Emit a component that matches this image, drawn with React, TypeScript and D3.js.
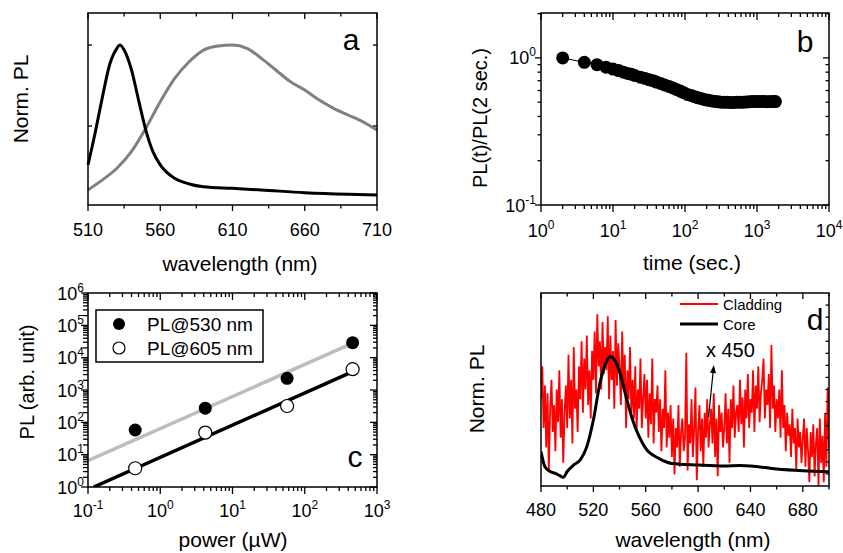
import React from "react";
import * as d3 from "d3";

const W = 843;
const H = 553;
const FONT = "'Liberation Sans', Arial, sans-serif";

// ---- panel a: normalized PL spectra
const aNarrowWave = [510, 515, 520, 525, 530, 532, 535, 540, 545, 550, 555, 560, 570, 580, 590, 610, 630, 660, 690, 710];
const aNarrowPL = [0.26, 0.46, 0.68, 0.88, 0.98, 1.0, 0.97, 0.85, 0.66, 0.475, 0.34, 0.26, 0.177, 0.142, 0.125, 0.115, 0.105, 0.088, 0.078, 0.074];
const aBroadWave = [510, 520, 530, 540, 550, 560, 570, 580, 590, 600, 610, 620, 630, 640, 650, 660, 670, 680, 690, 700, 710];
const aBroadPL = [0.105, 0.167, 0.239, 0.341, 0.486, 0.65, 0.794, 0.897, 0.969, 0.994, 1.0, 0.98, 0.918, 0.846, 0.774, 0.722, 0.66, 0.609, 0.568, 0.527, 0.475];
const aTicks = [510, 560, 610, 660, 710];

// ---- panel b: PL(t)/PL(2 s)
const bTime = [2, 4, 6, 8, 10, 12, 14, 16, 18, 20, 24, 28, 32, 36, 40, 46, 52, 60, 68, 76, 86, 96, 108, 122, 136, 152, 170, 190, 212, 236, 262, 290, 320, 354, 390, 430, 476, 526, 580, 640, 706, 780, 860, 950, 1048, 1156, 1276, 1408, 1554, 1714, 1800];
const bRatio = [1.0, 0.933, 0.9, 0.865, 0.84, 0.82, 0.8, 0.785, 0.775, 0.76, 0.74, 0.725, 0.71, 0.7, 0.685, 0.67, 0.655, 0.64, 0.625, 0.61, 0.595, 0.58, 0.565, 0.555, 0.545, 0.535, 0.528, 0.52, 0.515, 0.51, 0.506, 0.503, 0.5, 0.5, 0.499, 0.498, 0.498, 0.5, 0.5, 0.5, 0.502, 0.503, 0.505, 0.505, 0.506, 0.505, 0.505, 0.504, 0.505, 0.505, 0.505];

// ---- panel c: power dependence
const cPower = [0.45, 4.2, 57, 460];
const cPL530 = [58, 275, 2300, 29000];
const cPL605 = [3.8, 48, 320, 4400];
const cFit530Power = [0.1, 460];
const cFit530 = [6.5, 28000];
const cFit605Power = [0.12, 460];
const cFit605 = [1, 3700];

// ---- panel d: core vs cladding
const dCoreWave = [480, 483, 487, 491, 494, 497, 500, 505, 510, 515, 520, 525, 530, 533, 537, 540, 545, 550, 555, 560, 570, 580, 600, 620, 632, 640, 660, 680, 700];
const dCore = [0.178, 0.1, 0.075, 0.065, 0.055, 0.045, 0.075, 0.109, 0.135, 0.204, 0.342, 0.532, 0.645, 0.67, 0.645, 0.592, 0.463, 0.342, 0.256, 0.195, 0.143, 0.117, 0.109, 0.104, 0.106, 0.104, 0.088, 0.079, 0.074];
const dCladStart = 480; // nm, 1 nm steps
const dClad = [
  0.45, 0.62, 0.3, 0.52, 0.2, 0.48, 0.08, 0.4, 0.55, 0.28,
  0.42, 0.18, 0.5, 0.33, 0.6, 0.25, 0.45, 0.12, 0.38, 0.52,
  0.3, 0.68, 0.35, 0.55, 0.22, 0.72, 0.4, 0.5, 0.28, 0.62,
  0.45, 0.75, 0.38, 0.66, 0.5, 0.78, 0.42, 0.6, 0.35, 0.7,
  0.55, 0.8, 0.48, 0.89, 0.62, 0.75, 0.5, 0.85, 0.58, 0.72,
  0.6, 0.88, 0.45, 0.78, 0.55, 0.7, 0.4, 0.86, 0.52, 0.74,
  0.62, 0.42, 0.8, 0.5, 0.68, 0.3, 0.6, 0.45, 0.72, 0.38,
  0.55, 0.35, 0.62, 0.28, 0.5, 0.4, 0.66, 0.3, 0.45, 0.58,
  0.35, 0.55, 0.25, 0.48, 0.32, 0.66, 0.22, 0.45, 0.38, 0.52,
  0.28, 0.45, 0.18, 0.4, 0.3, 0.6, 0.2, 0.38, 0.25, 0.42,
  0.15, 0.35, 0.06, 0.3, 0.2, 0.42, 0.1, 0.28, 0.35, 0.18,
  0.25, 0.69, 0.08, 0.32, 0.22, 0.45, 0.15, 0.3, 0.51, 0.03,
  0.28, 0.42, 0.18, 0.35, 0.1, 0.38, 0.25, 0.45, 0.2, 0.32,
  0.4, 0.22, 0.48, 0.15, 0.35, 0.05, 0.42, 0.28, 0.38, 0.2,
  0.3, 0.48, 0.22, 0.4, 0.12, 0.45, 0.3, 0.52, 0.25, 0.38,
  0.42, 0.28, 0.55, 0.32, 0.46, 0.2, 0.5, 0.35, 0.58, 0.3,
  0.45, 0.38, 0.6, 0.28, 0.52, 0.4, 0.62, 0.33, 0.48, 0.55,
  0.66, 0.35, 0.5, 0.42, 0.58, 0.3, 0.73, 0.4, 0.52, 0.28,
  0.45, 0.35, 0.5, 0.25, 0.6, 0.3, 0.42, 0.18, 0.38, 0.26,
  0.32, 0.15, 0.4, 0.22, 0.3, 0.08, 0.35, 0.2, 0.28, 0.12,
  0.25, 0.35, 0.1, 0.3, 0.18, 0.02, 0.28, 0.15, 0.32, 0.05,
  0.22, 0.3, 0.0, 0.35, 0.12, 0.26, 0.02, 0.38, 0.1, 0.51,
  0.2,
];
const dTicks = [480, 520, 560, 600, 640, 680];

// log minor tick values between domain ends
function logTicks(lo: number, hi: number) {
  const major: number[] = [];
  const minor: number[] = [];
  for (let e = Math.floor(Math.log10(lo)); e <= Math.ceil(Math.log10(hi)); e++) {
    const p = Math.pow(10, e);
    if (p >= lo * 0.999 && p <= hi * 1.001) major.push(p);
    for (let m = 2; m < 10; m++) {
      const v = m * p;
      if (v > lo && v < hi) minor.push(v);
    }
  }
  return { major, minor };
}

type Side = "top" | "bottom" | "left" | "right";

function tickLines(side: Side, values: number[], scale: any, box: any, len: number, inward: boolean) {
  return values.map((v, i) => {
    const p = scale(v);
    let x1, y1, x2, y2;
    if (side === "bottom") {
      x1 = x2 = p; y1 = box.y1; y2 = box.y1 + (inward ? -len : len);
    } else if (side === "top") {
      x1 = x2 = p; y1 = box.y0; y2 = box.y0 + (inward ? len : -len);
    } else if (side === "left") {
      y1 = y2 = p; x1 = box.x0; x2 = box.x0 + (inward ? len : -len);
    } else {
      y1 = y2 = p; x1 = box.x1; x2 = box.x1 + (inward ? -len : len);
    }
    return <line key={side + i + "-" + len} x1={x1} y1={y1} x2={x2} y2={y2} stroke="#000" strokeWidth={1.3} />;
  });
}

function Pow({ x, y, exp, anchor }: { x: number; y: number; exp: string; anchor: string }) {
  return (
    <text x={x} y={y} textAnchor={anchor} fontSize={18} fontFamily={FONT}>
      10<tspan dy={-8} fontSize={12}>{exp}</tspan>
    </text>
  );
}

function Frame({ box }: { box: any }) {
  return <rect x={box.x0} y={box.y0} width={box.x1 - box.x0} height={box.y1 - box.y0} fill="none" stroke="#000" strokeWidth={1.5} />;
}

function YTitle({ x, y, text, size = 21 }: { x: number; y: number; text: string; size?: number }) {
  return (
    <text transform={`translate(${x},${y}) rotate(-90)`} textAnchor="middle" dy="0.35em" fontSize={size} fontFamily={FONT}>
      {text}
    </text>
  );
}

function PanelA() {
  const box = { x0: 88, x1: 377, y0: 13, y1: 205 };
  const x = d3.scaleLinear().domain([510, 710]).range([box.x0, box.x1]);
  const y = d3.scaleLinear().domain([0.012, 1.198]).range([box.y1, box.y0]);
  const line = d3.line<number>().curve(d3.curveMonotoneX);
  const narrow = line(aNarrowWave.map((w, i) => [x(w), y(aNarrowPL[i])] as any));
  const broad = line(aBroadWave.map((w, i) => [x(w), y(aBroadPL[i])] as any));
  const minor = [535, 585, 635, 685];
  return (
    <g>
      <path d={broad!} fill="none" stroke="#808080" strokeWidth={3} />
      <path d={narrow!} fill="none" stroke="#000" strokeWidth={3} />
      <Frame box={box} />
      {tickLines("bottom", aTicks, x, box, 6, false)}
      {tickLines("bottom", minor, x, box, 3.5, false)}
      {tickLines("top", aTicks, x, box, 6, true)}
      {tickLines("top", minor, x, box, 3.5, true)}
      {tickLines("left", [0.5, 1.0], y, box, 4, true)}
      {tickLines("right", [0.5, 1.0], y, box, 4, true)}
      {aTicks.map((t) => (
        <text key={t} x={x(t)} y={235.5} textAnchor="middle" fontSize={18} fontFamily={FONT}>{t}</text>
      ))}
      <text x={240} y={271} textAnchor="middle" fontSize={21} fontFamily={FONT}>wavelength (nm)</text>
      <YTitle x={21} y={99} text="Norm. PL" />
      <text x={351} y={50} textAnchor="middle" fontSize={30} fontFamily={FONT}>a</text>
    </g>
  );
}

function PanelB() {
  const box = { x0: 541, x1: 829, y0: 13, y1: 205 };
  const x = d3.scaleLog().domain([1, 1e4]).range([box.x0, box.x1]);
  const y = d3.scaleLog().domain([0.1, 2.02]).range([box.y1, box.y0]);
  const xt = logTicks(1, 1e4);
  const yt = logTicks(0.1, 2.02);
  const path = d3.line<number>()(bTime.map((t, i) => [x(t), y(bRatio[i])] as any));
  return (
    <g>
      <path d={path!} fill="none" stroke="#000" strokeWidth={1} />
      {bTime.map((t, i) => (
        <circle key={i} cx={x(t)} cy={y(bRatio[i])} r={6.5} fill="#000" />
      ))}
      <Frame box={box} />
      {tickLines("bottom", xt.major, x, box, 7, false)}
      {tickLines("bottom", xt.minor, x, box, 4, false)}
      {tickLines("top", xt.major, x, box, 7, true)}
      {tickLines("top", xt.minor, x, box, 4, true)}
      {tickLines("left", yt.major, y, box, 6, false)}
      {tickLines("left", yt.minor, y, box, 3.5, false)}
      {tickLines("right", yt.major, y, box, 6, true)}
      {tickLines("right", yt.minor, y, box, 3.5, true)}
      {xt.major.map((t) => (
        <Pow key={t} x={x(t)} y={237} exp={String(Math.round(Math.log10(t)))} anchor="middle" />
      ))}
      {yt.major.map((t) => (
        <Pow key={t} x={536} y={y(t) + 6.5} exp={String(Math.round(Math.log10(t)))} anchor="end" />
      ))}
      <text x={692} y={270} textAnchor="middle" fontSize={21} fontFamily={FONT}>time (sec.)</text>
      <YTitle x={480} y={118} text="PL(t)/PL(2 sec.)" size={20} />
      <text x={805} y={52} textAnchor="middle" fontSize={30} fontFamily={FONT}>b</text>
    </g>
  );
}

function PanelC() {
  const box = { x0: 88, x1: 377, y0: 293, y1: 487 };
  const x = d3.scaleLog().domain([0.1, 1000]).range([box.x0, box.x1]);
  const y = d3.scaleLog().domain([1, 1e6]).range([box.y1, box.y0]);
  const xt = logTicks(0.1, 1000);
  const yt = logTicks(1, 1e6);
  const line = d3.line<number>();
  const fitGray = line(cFit530Power.map((p, i) => [x(p), y(cFit530[i])] as any));
  const fitBlack = line(cFit605Power.map((p, i) => [x(p), y(cFit605[i])] as any));
  return (
    <g>
      <defs>
        <clipPath id="clipC">
          <rect x={box.x0} y={box.y0} width={box.x1 - box.x0} height={box.y1 - box.y0} />
        </clipPath>
      </defs>
      <g clipPath="url(#clipC)">
        <path d={fitGray!} fill="none" stroke="#bdbdbd" strokeWidth={3.5} />
        <path d={fitBlack!} fill="none" stroke="#000" strokeWidth={3.5} />
      </g>
      {cPower.map((p, i) => (
        <circle key={"f" + i} cx={x(p)} cy={y(cPL530[i])} r={6.5} fill="#000" />
      ))}
      {cPower.map((p, i) => (
        <circle key={"o" + i} cx={x(p)} cy={y(cPL605[i])} r={6.5} fill="#fff" stroke="#000" strokeWidth={1.2} />
      ))}
      <Frame box={box} />
      {tickLines("bottom", xt.major, x, box, 7, false)}
      {tickLines("bottom", xt.minor, x, box, 4, false)}
      {tickLines("top", xt.major, x, box, 7, true)}
      {tickLines("top", xt.minor, x, box, 4, true)}
      {tickLines("left", yt.major, y, box, 7, false)}
      {tickLines("left", yt.minor, y, box, 5, false)}
      {tickLines("right", yt.major, y, box, 7, true)}
      {tickLines("right", yt.minor, y, box, 4, true)}
      {xt.major.map((t) => (
        <Pow key={t} x={x(t)} y={516.5} exp={String(Math.round(Math.log10(t)))} anchor="middle" />
      ))}
      {yt.major.map((t) => (
        <Pow key={t} x={84} y={y(t) + 6.5} exp={String(Math.round(Math.log10(t)))} anchor="end" />
      ))}
      <rect x={96} y={310} width={167} height={52} fill="#fff" stroke="#000" strokeWidth={1.5} />
      <circle cx={119} cy={324} r={6} fill="#000" />
      <circle cx={119} cy={348} r={6} fill="#fff" stroke="#000" strokeWidth={1.2} />
      <text x={147} y={331} fontSize={19} fontFamily={FONT}>PL@530 nm</text>
      <text x={147} y={355} fontSize={19} fontFamily={FONT}>PL@605 nm</text>
      <text x={233} y={547} textAnchor="middle" fontSize={21} fontFamily={FONT}>power (µW)</text>
      <YTitle x={27} y={382} text="PL (arb. unit)" size={20} />
      <text x={355} y={467} textAnchor="middle" fontSize={30} fontFamily={FONT}>c</text>
    </g>
  );
}

function PanelD() {
  const box = { x0: 541, x1: 829, y0: 293, y1: 486 };
  const x = d3.scaleLinear().domain([480, 700]).range([box.x0, box.x1]);
  const y = d3.scaleLinear().domain([0, 1]).range([box.y1, box.y0]);
  const clad = d3.line<number>()(dClad.map((v, i) => [x(dCladStart + i), y(v)] as any));
  const core = d3.line<number>().curve(d3.curveMonotoneX)(dCoreWave.map((w, i) => [x(w), y(dCore[i])] as any));
  const minor = [500, 540, 580, 620, 660, 700];
  const yMinor = d3.range(0.0625, 1, 0.0625);
  // arrow from (608 nm, 0.357) to (612 nm, 0.627)
  const ax0 = x(608), ay0 = y(0.357), ax1 = x(612), ay1 = y(0.627);
  const ang = Math.atan2(ay1 - ay0, ax1 - ax0);
  const hl = 8, hw = 3;
  const head = [
    [ax1, ay1],
    [ax1 - hl * Math.cos(ang) + hw * Math.sin(ang), ay1 - hl * Math.sin(ang) - hw * Math.cos(ang)],
    [ax1 - hl * Math.cos(ang) - hw * Math.sin(ang), ay1 - hl * Math.sin(ang) + hw * Math.cos(ang)],
  ];
  return (
    <g>
      <defs>
        <clipPath id="clipD">
          <rect x={box.x0} y={box.y0} width={box.x1 - box.x0} height={box.y1 - box.y0} />
        </clipPath>
      </defs>
      <g clipPath="url(#clipD)">
        <path d={clad!} fill="none" stroke="#ff0000" strokeWidth={1.8} />
        <path d={core!} fill="none" stroke="#000" strokeWidth={3} />
      </g>
      <line x1={ax0} y1={ay0} x2={ax1 - 6 * Math.cos(ang)} y2={ay1 - 6 * Math.sin(ang)} stroke="#000" strokeWidth={1.2} />
      <polygon points={head.map((p) => p.join(",")).join(" ")} fill="#000" />
      <text x={x(606)} y={y(0.67)} fontSize={20} fontFamily={FONT}>x 450</text>
      <Frame box={box} />
      {tickLines("bottom", dTicks, x, box, 6, false)}
      {tickLines("bottom", minor, x, box, 3.5, false)}
      {tickLines("top", dTicks, x, box, 6, true)}
      {tickLines("top", minor, x, box, 3.5, true)}
      {tickLines("right", yMinor, y, box, 3.5, true)}
      {dTicks.map((t) => (
        <text key={t} x={x(t)} y={515.5} textAnchor="middle" fontSize={18} fontFamily={FONT}>{t}</text>
      ))}
      <line x1={680} y1={304} x2={718} y2={304} stroke="#ff0000" strokeWidth={2} />
      <text x={723} y={309.5} fontSize={15} fontFamily={FONT}>Cladding</text>
      <line x1={680} y1={324} x2={718} y2={324} stroke="#000" strokeWidth={3} />
      <text x={723} y={329.5} fontSize={15} fontFamily={FONT}>Core</text>
      <text x={693} y={547} textAnchor="middle" fontSize={21} fontFamily={FONT}>wavelength (nm)</text>
      <YTitle x={477} y={389} text="Norm. PL" />
      <text x={815} y={330} textAnchor="middle" fontSize={30} fontFamily={FONT}>d</text>
    </g>
  );
}

export default function App() {
  return (
    <svg
      width={W}
      height={H}
      viewBox={`0 0 ${W} ${H}`}
      style={{ position: "absolute", left: 0, top: 0, background: "#fff" }}
    >
      <rect width={W} height={H} fill="#fff" />
      <PanelA />
      <PanelB />
      <PanelC />
      <PanelD />
    </svg>
  );
}
